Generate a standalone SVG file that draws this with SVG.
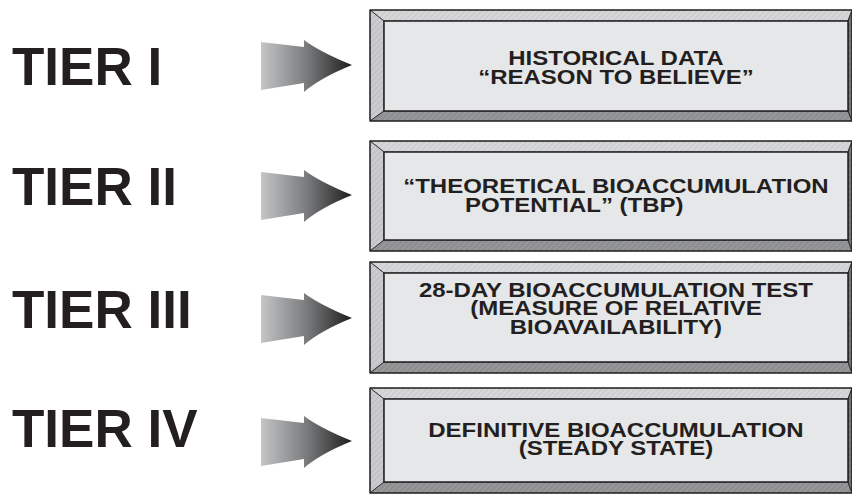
<svg xmlns="http://www.w3.org/2000/svg" width="852" height="494" viewBox="0 0 852 494">
<defs>
  <linearGradient id="arrowGrad" x1="0" y1="0" x2="1" y2="0">
    <stop offset="0" stop-color="#c4c5c7"/>
    <stop offset="0.5" stop-color="#7a7b7d"/>
    <stop offset="1" stop-color="#1e1e1e"/>
  </linearGradient>
  <pattern id="hatchLight" width="4" height="4" patternUnits="userSpaceOnUse" patternTransform="rotate(45)">
    <rect width="4" height="4" fill="#d6d7d9"/>
    <line x1="0" y1="0" x2="0" y2="4" stroke="#bfc0c2" stroke-width="1.2"/>
  </pattern>
  <pattern id="hatchLeft" width="4" height="4" patternUnits="userSpaceOnUse" patternTransform="rotate(45)">
    <rect width="4" height="4" fill="#cbcccf"/>
    <line x1="0" y1="0" x2="0" y2="4" stroke="#b3b4b6" stroke-width="1.2"/>
  </pattern>
  <pattern id="hatchDark" width="4" height="4" patternUnits="userSpaceOnUse" patternTransform="rotate(45)">
    <rect width="4" height="4" fill="#8e8f91"/>
    <line x1="0" y1="0" x2="0" y2="4" stroke="#a8a9ab" stroke-width="1.2"/>
  </pattern>
  <pattern id="hatchRight" width="4" height="4" patternUnits="userSpaceOnUse" patternTransform="rotate(45)">
    <rect width="4" height="4" fill="#6d6e70"/>
    <line x1="0" y1="0" x2="0" y2="4" stroke="#8a8b8d" stroke-width="1.2"/>
  </pattern>
</defs>
<style>
  .tier { font-family: "Liberation Sans", Arial, sans-serif; font-weight: bold; font-size: 53px; fill: #231f20; }
  .btxt { font-family: "Liberation Sans", Arial, sans-serif; font-weight: bold; font-size: 20px; fill: #231f20; text-anchor: middle; }
  .face { fill: #e6e7e8; stroke: #231f20; stroke-width: 1.5; }
  .outer { fill: none; stroke: #231f20; stroke-width: 1.2; }
  .bev { stroke: #231f20; stroke-width: 0.8; }
  .arrow { fill: url(#arrowGrad); }
</style>

<g id="tier1">
  <text class="tier" x="12" y="85">TIER I</text>
</g>
<g id="tier2">
  <text class="tier" x="12" y="205">TIER II</text>
</g>
<g id="tier3">
  <text class="tier" x="12" y="328">TIER III</text>
</g>
<g id="tier4">
  <text class="tier" x="12" y="447">TIER IV</text>
</g>

<g id="connectors">
  <path class="arrow" d="M261,42 L304,47 L304,40 Q320,52 352,65 Q320,78 304,92 L304,83 L261,90 Z"/>
  <path class="arrow" d="M261,172 L304,177 L304,170 Q320,182 352,195 Q320,208 304,222 L304,213 L261,220 Z"/>
  <path class="arrow" d="M261,295 L304,300 L304,293 Q320,305 352,318 Q320,331 304,345 L304,336 L261,343 Z"/>
  <path class="arrow" d="M261,418 L304,423 L304,416 Q320,428 352,441 Q320,454 304,468 L304,459 L261,466 Z"/>
</g>

<g id="box1">
  <polygon class="bev" fill="url(#hatchLight)" points="370,10 852,10 848,21 384,21"/>
  <polygon class="bev" fill="url(#hatchLeft)" points="370,10 384,21 384,111 370,121"/>
  <polygon class="bev" fill="url(#hatchDark)" points="370,121 384,111 848,111 852,121"/>
  <polygon class="bev" fill="url(#hatchRight)" points="852,10 852,121 848,111 848,21"/>
  <rect class="face" x="384" y="21" width="464" height="90"/>
  <rect class="outer" x="370" y="10" width="482" height="111"/>
  <g transform="scale(1.2 1)">
    <text class="btxt" x="513.3" y="65">HISTORICAL DATA</text>
    <text class="btxt" x="513.3" y="83.7">“REASON TO BELIEVE”</text>
  </g>
</g>

<g id="box2">
  <polygon class="bev" fill="url(#hatchLight)" points="370,141 852,141 848,152 384,152"/>
  <polygon class="bev" fill="url(#hatchLeft)" points="370,141 384,152 384,240 370,251"/>
  <polygon class="bev" fill="url(#hatchDark)" points="370,251 384,240 848,240 852,251"/>
  <polygon class="bev" fill="url(#hatchRight)" points="852,141 852,251 848,240 848,152"/>
  <rect class="face" x="384" y="152" width="464" height="88"/>
  <rect class="outer" x="370" y="141" width="482" height="110"/>
  <g transform="scale(1.2 1)">
    <text class="btxt" x="513.3" y="193">“THEORETICAL BIOACCUMULATION</text>
    <text class="btxt" x="387.5" y="211.7" style="text-anchor:start">POTENTIAL” (TBP)</text>
  </g>
</g>

<g id="box3">
  <polygon class="bev" fill="url(#hatchLight)" points="370,262 852,262 848,273 384,273"/>
  <polygon class="bev" fill="url(#hatchLeft)" points="370,262 384,273 384,362 370,373"/>
  <polygon class="bev" fill="url(#hatchDark)" points="370,373 384,362 848,362 852,373"/>
  <polygon class="bev" fill="url(#hatchRight)" points="852,262 852,373 848,362 848,273"/>
  <rect class="face" x="384" y="273" width="464" height="89"/>
  <rect class="outer" x="370" y="262" width="482" height="111"/>
  <g transform="scale(1.2 1)">
    <text class="btxt" x="513.3" y="296.7">28-DAY BIOACCUMULATION TEST</text>
    <text class="btxt" x="513.3" y="315.3">(MEASURE OF RELATIVE</text>
    <text class="btxt" x="513.3" y="334">BIOAVAILABILITY)</text>
  </g>
</g>

<g id="box4">
  <polygon class="bev" fill="url(#hatchLight)" points="370,388 852,388 848,399 384,399"/>
  <polygon class="bev" fill="url(#hatchLeft)" points="370,388 384,399 384,482 370,493"/>
  <polygon class="bev" fill="url(#hatchDark)" points="370,493 384,482 848,482 852,493"/>
  <polygon class="bev" fill="url(#hatchRight)" points="852,388 852,493 848,482 848,399"/>
  <rect class="face" x="384" y="399" width="464" height="83"/>
  <rect class="outer" x="370" y="388" width="482" height="105"/>
  <g transform="scale(1.2 1)">
    <text class="btxt" x="513.3" y="436.7">DEFINITIVE BIOACCUMULATION</text>
    <text class="btxt" x="513.3" y="455.3">(STEADY STATE)</text>
  </g>
</g>
</svg>
